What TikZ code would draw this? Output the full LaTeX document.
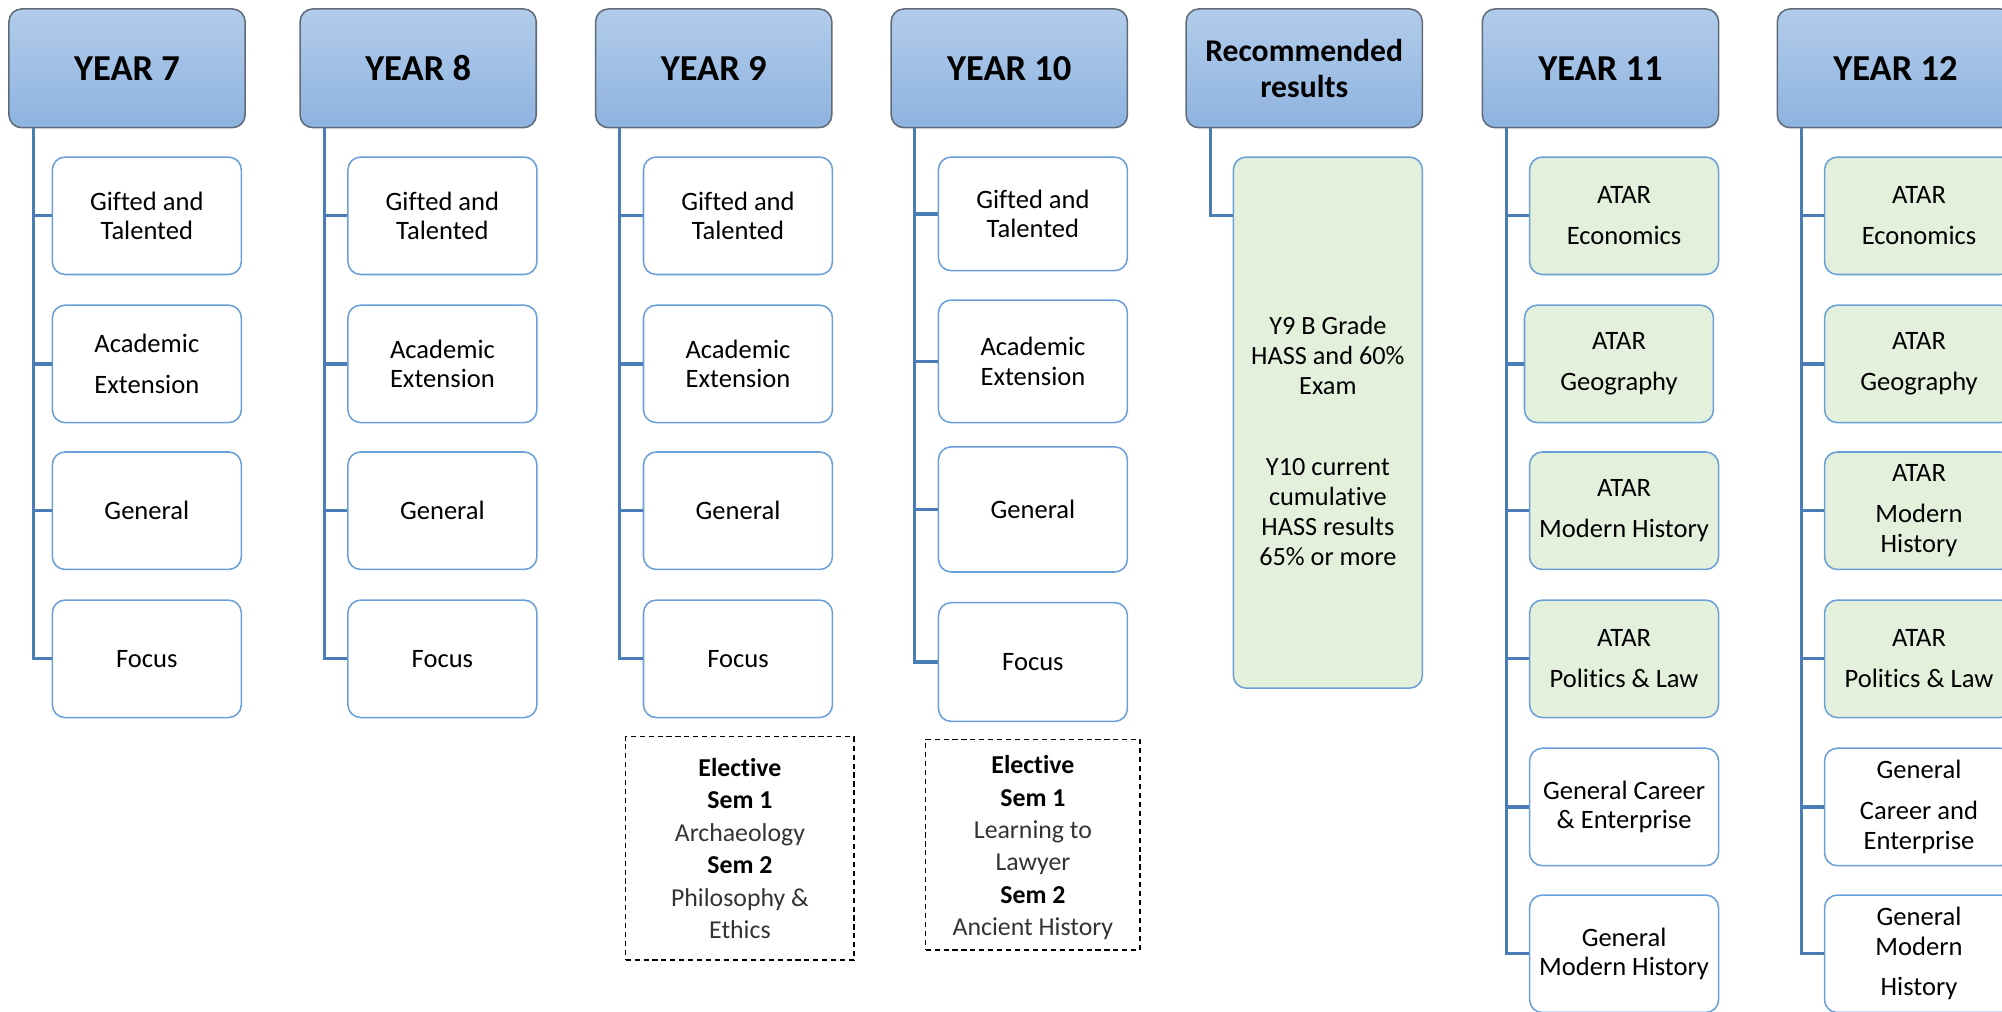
\documentclass[tikz,border=0pt]{standalone}
\usepackage{fontspec}
\setmainfont[Ligatures={NoCommon}]{Carlito}
\definecolor{hdrtop}{HTML}{B2CCEA}
\definecolor{hdrbot}{HTML}{8EB3E0}
\definecolor{hdrline}{HTML}{5F6B78}
\definecolor{trunkblue}{HTML}{4A7DB5}
\definecolor{boxline}{HTML}{6A9FD8}
\definecolor{atarfill}{HTML}{E3F0DB}
\definecolor{lighttext}{HTML}{333333}
\begin{document}
\begin{tikzpicture}[x=0.5pt,y=-0.5pt,
 hdr/.style={draw=hdrline, line width=0.6pt, rounded corners=5pt, top color=hdrtop, bottom color=hdrbot, minimum width=92.5pt, minimum height=46.5pt, inner sep=0pt, align=center, font=\fontsize{14.3}{16}\selectfont\bfseries},
 sub/.style={draw=boxline, line width=0.6pt, rounded corners=5pt, fill=white, minimum width=74pt, minimum height=46pt, inner sep=0pt, align=center, font=\fontsize{10.4}{11.5}\selectfont},
 atar/.style={sub, fill=atarfill},
 elect/.style={draw=black, line width=0.6pt, dash pattern=on 2pt off 1.5pt, inner sep=0pt, align=center, font=\fontsize{10.1}{12.7}\selectfont},
 conn/.style={draw=trunkblue, line width=1.3pt}]
\useasboundingbox (0,0) rectangle (1568,792);
\clip (0,0) rectangle (1568,792);

% headers
\node[hdr] (h7) at (99.5,53.5) {YEAR 7};
\node[hdr] (h8) at (327.5,53.5) {YEAR 8};
\node[hdr] (h9) at (559,53.5) {YEAR 9};
\node[hdr] (h10) at (790.5,53.5) {YEAR 10};
\node[hdr, font=\fontsize{12.4}{14}\selectfont\bfseries] (hr) at (1021.5,53.5) {Recommended\\results};
\node[hdr] (h11) at (1253.5,53.5) {YEAR 11};
\node[hdr] (h12) at (1484.5,53.5) {YEAR 12};

% trunk tops
\coordinate (t7) at (26,100);
\coordinate (t8) at (254,100);
\coordinate (t9) at (485,100);
\coordinate (t10) at (716,100);
\coordinate (tr) at (948,100);
\coordinate (t11) at (1180,100);
\coordinate (t12) at (1411,100);

% Year 7
\node[sub] (a7) at (115,169) {Gifted and\\Talented};
\node[sub] (b7) at (115,285) {Academic\\[4.5pt]Extension};
\node[sub] (c7) at (115,400) {General};
\node[sub] (d7) at (115,516) {Focus};
% Year 8
\node[sub] (a8) at (346.5,169) {Gifted and\\Talented};
\node[sub] (b8) at (346.5,285) {Academic\\Extension};
\node[sub] (c8) at (346.5,400) {General};
\node[sub] (d8) at (346.5,516) {Focus};
% Year 9
\node[sub] (a9) at (578,169) {Gifted and\\Talented};
\node[sub] (b9) at (578,285) {Academic\\Extension};
\node[sub] (c9) at (578,400) {General};
\node[sub] (d9) at (578,516) {Focus};
% Year 10
\node[sub, minimum height=44.5pt] (a10) at (809,167.5) {Gifted and\\Talented};
\node[sub, minimum height=48pt] (b10) at (809,283) {Academic\\Extension};
\node[sub, minimum height=49pt] (c10) at (809,399) {General};
\node[sub, minimum height=46.5pt] (d10) at (809,518.5) {Focus};
% Recommended
\node[atar, minimum height=208pt] (rb) at (1040,331) {};
\node[align=center, inner sep=0pt, font=\fontsize{10.3}{11.75}\selectfont] (rbt) at (1040,345.5)
  {Y9 B Grade\\HASS and 60\%\\Exam\\[19.75pt]Y10 current\\cumulative\\HASS results\\65\% or more};
% Year 11
\node[atar] (a11) at (1272,169) {ATAR\\[4.5pt]Economics};
\node[atar] (b11) at (1268,285) {ATAR\\[4.5pt]Geography};
\node[atar] (c11) at (1272,400) {ATAR\\[4.5pt]Modern History};
\node[atar] (d11) at (1272,516) {ATAR\\[4.5pt]Politics \& Law};
\node[sub] (e11) at (1272,632) {General Career\\\& Enterprise};
\node[sub] (f11) at (1272,747) {General\\Modern History};
% Year 12
\node[atar] (a12) at (1503,169) {ATAR\\[4.5pt]Economics};
\node[atar] (b12) at (1503,285) {ATAR\\[4.5pt]Geography};
\node[atar] (c12) at (1503,400) {ATAR\\[4.5pt]Modern\\History};
\node[atar] (d12) at (1503,516) {ATAR\\[4.5pt]Politics \& Law};
\node[sub] (e12) at (1503,632) {General\\[4.5pt]Career and\\Enterprise};
\node[sub] (f12) at (1503,747) {General\\Modern\\[4.5pt]History};

% electives
\node[elect, minimum width=89.5pt, minimum height=87.5pt] (e9) at (579.5,664.5)
  {\textbf{Elective}\\\textbf{Sem 1}\\\textcolor{lighttext}{Archaeology}\\\textbf{Sem 2}\\\textcolor{lighttext}{Philosophy \&}\\\textcolor{lighttext}{Ethics}};
\node[elect, minimum width=84pt, minimum height=82.5pt] (e10) at (809,661.5) {};
\node[align=center, inner sep=0pt, font=\fontsize{10.1}{12.7}\selectfont] (e10t) at (809,664)
  {\textbf{Elective}\\\textbf{Sem 1}\\\textcolor{lighttext}{Learning to}\\\textcolor{lighttext}{Lawyer}\\\textbf{Sem 2}\\\textcolor{lighttext}{Ancient History}};

% connectors
\foreach \c in {a7,b7,c7,d7} \draw[conn] (t7) |- (\c.west);
\foreach \c in {a8,b8,c8,d8} \draw[conn] (t8) |- (\c.west);
\foreach \c in {a9,b9,c9,d9} \draw[conn] (t9) |- (\c.west);
\foreach \c in {a10,b10,c10,d10} \draw[conn] (t10) |- (\c.west);
\draw[conn] (tr) |- (rb.west |- a7.west);
\foreach \c in {a11,b11,c11,d11,e11,f11} \draw[conn] (t11) |- (\c.west);
\foreach \c in {a12,b12,c12,d12,e12,f12} \draw[conn] (t12) |- (\c.west);
\end{tikzpicture}
\end{document}
